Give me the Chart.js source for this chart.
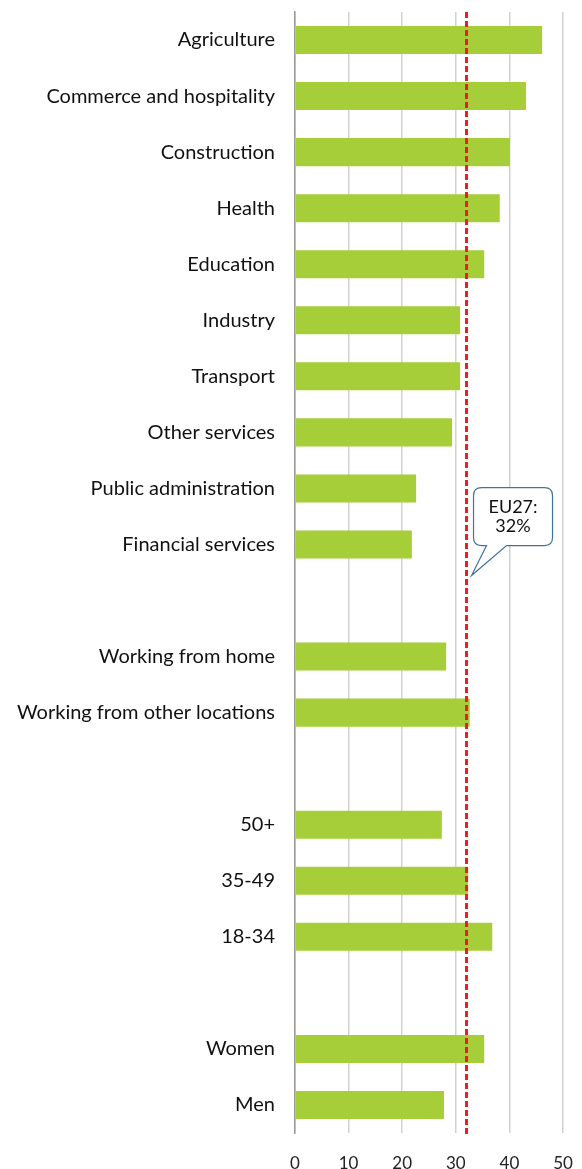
<!DOCTYPE html>
<html>
<head>
<meta charset="utf-8">
<script src="https://cdn.jsdelivr.net/npm/chart.js@4/dist/chart.umd.min.js"></script>
<style>
  html, body { margin: 0; padding: 0; background: #fff; }
  #wrap { width: 582px; height: 1169px; position: relative; }
</style>
</head>
<body>
<div id="wrap"><canvas id="chart"></canvas></div>
<script>
// rows, blank strings are spacer rows between groups
const categories = [
  'Agriculture', 'Commerce and hospitality', 'Construction', 'Health', 'Education',
  'Industry', 'Transport', 'Other services', 'Public administration', 'Financial services',
  '',
  'Working from home', 'Working from other locations',
  '',
  '50+', '35-49', '18-34',
  '',
  'Women', 'Men'
];
const shares = [
  46.1, 43.1, 40.1, 38.2, 35.3,
  30.8, 30.8, 29.3, 22.6, 21.8,
  null,
  28.2, 32.6,
  null,
  27.4, 32.3, 36.8,
  null,
  35.3, 27.8
];
const xTicks = [0, 10, 20, 30, 40, 50];
const euAverage = 32;
const calloutLines = ['EU27:', '32%'];

const FONT = 'Lato, "Noto Sans", sans-serif';

// red dashed EU27 reference line plus the speech-bubble label
const euLine = {
  id: 'euLine',
  afterDatasetsDraw(chart) {
    const { ctx, chartArea, scales } = chart;
    const x = scales.x.getPixelForValue(euAverage);
    ctx.save();
    ctx.strokeStyle = '#ec1c24';
    ctx.lineWidth = 3;
    ctx.setLineDash([6, 3]);
    ctx.beginPath();
    ctx.moveTo(x, chartArea.top);
    ctx.lineTo(x, chartArea.bottom + 4);
    ctx.stroke();
    ctx.setLineDash([]);

    // bubble anchored to the spacer row under "Financial services"
    const cy = scales.y.getPixelForValue(10);
    const left = x + 7, right = x + 86;
    const top = cy - 113, bottom = cy - 55;
    const r = 8;
    ctx.beginPath();
    ctx.moveTo(left + r, top);
    ctx.lineTo(right - r, top);
    ctx.quadraticCurveTo(right, top, right, top + r);
    ctx.lineTo(right, bottom - r);
    ctx.quadraticCurveTo(right, bottom, right - r, bottom);
    ctx.lineTo(x + 40, bottom);
    ctx.lineTo(x + 5, cy - 25);
    ctx.lineTo(x + 20, bottom);
    ctx.lineTo(left + r, bottom);
    ctx.quadraticCurveTo(left, bottom, left, bottom - r);
    ctx.lineTo(left, top + r);
    ctx.quadraticCurveTo(left, top, left + r, top);
    ctx.closePath();
    ctx.fillStyle = '#fff';
    ctx.fill();
    ctx.strokeStyle = '#41719c';
    ctx.lineWidth = 1.2;
    ctx.stroke();

    ctx.fillStyle = '#111';
    ctx.font = '18px ' + FONT;
    ctx.textAlign = 'center';
    ctx.textBaseline = 'middle';
    const mid = (left + right) / 2;
    ctx.fillText(calloutLines[0], mid, top + 20);
    ctx.fillText(calloutLines[1], mid, top + 39);
    ctx.restore();
  }
};

new Chart(document.getElementById('chart'), {
  type: 'bar',
  data: {
    labels: categories,
    datasets: [{
      data: shares,
      backgroundColor: '#a6ce39',
      borderWidth: 0,
      categoryPercentage: 1,
      barPercentage: 0.5
    }]
  },
  options: {
    indexAxis: 'y',
    responsive: true,
    maintainAspectRatio: false,
    animation: false,
    layout: { padding: { top: 12, right: 19, left: 0, bottom: 0 } },
    plugins: {
      legend: { display: false },
      tooltip: { enabled: false }
    },
    scales: {
      x: {
        min: 0,
        max: 50,
        afterBuildTicks(scale) {
          scale.ticks = xTicks.map(v => ({ value: v }));
        },
        afterFit(scale) {
          scale.height = 36;
          scale.paddingLeft = 0;
          scale.paddingRight = 0;
        },
        grid: { color: '#d2d2d2', lineWidth: 1.5, drawTicks: false },
        border: { display: false },
        ticks: {
          padding: 20,
          color: '#222',
          font: { family: FONT, size: 17 }
        }
      },
      y: {
        afterFit(scale) {
          scale.width = 295;
          scale.paddingTop = 0;
          scale.paddingBottom = 0;
        },
        grid: { display: false, drawTicks: false },
        border: { display: true, color: '#999', width: 1.5 },
        ticks: {
          padding: 20,
          color: '#111',
          autoSkip: false,
          font: { family: FONT, size: 20 }
        }
      }
    }
  },
  plugins: [euLine]
});
</script>
</body>
</html>
